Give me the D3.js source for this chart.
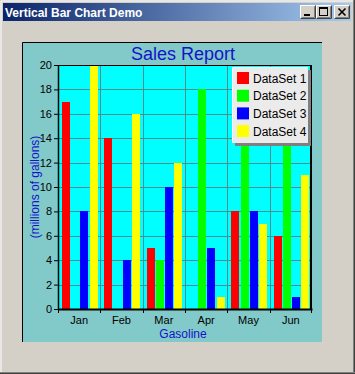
<!DOCTYPE html>
<html><head><meta charset="utf-8">
<script src="https://cdn.jsdelivr.net/npm/d3@7"></script>
<style>
html,body{margin:0;padding:0;background:#d4d0c8;overflow:hidden;}
svg{display:block;}
</style></head>
<body>
<script>
const months = ["Jan","Feb","Mar","Apr","May","Jun"];
const seriesNames = ["DataSet 1","DataSet 2","DataSet 3","DataSet 4"];
const dataSet1 = [17,14,5,0,8,6];
const dataSet2 = [0,0,4,18,15,14];
const dataSet3 = [8,4,10,5,8,1];
const dataSet4 = [20,16,12,1,7,11];
const yTicks = [0,2,4,6,8,10,12,14,16,18,20];
const seriesColors = ["#ff0000","#00ff00","#0000ff","#ffff00"];
const chartTitle = "Sales Report";
const xTitle = "Gasoline";
const yTitle = "(millions of gallons)";
const windowTitle = "Vertical Bar Chart Demo";

const allSeries = [dataSet1,dataSet2,dataSet3,dataSet4];
const W=355,H=374;
const svg=d3.select("body").append("svg").attr("width",W).attr("height",H);

// window chrome
svg.append("rect").attr("x",0).attr("y",0).attr("width",W).attr("height",H).attr("fill","#d4d0c8");
svg.append("line").attr("x1",1).attr("y1",1).attr("x2",W-2).attr("y2",1).attr("stroke","#ffffff");
svg.append("line").attr("x1",1).attr("y1",1).attr("x2",1).attr("y2",H-2).attr("stroke","#ffffff");
svg.append("line").attr("x1",W-1.5).attr("y1",0).attr("x2",W-1.5).attr("y2",H).attr("stroke","#808080");
svg.append("line").attr("x1",W-0.5).attr("y1",0).attr("x2",W-0.5).attr("y2",H).attr("stroke","#404040");
svg.append("line").attr("x1",0).attr("y1",H-1.5).attr("x2",W).attr("y2",H-1.5).attr("stroke","#808080");
svg.append("line").attr("x1",0).attr("y1",H-0.5).attr("x2",W).attr("y2",H-0.5).attr("stroke","#404040");
const defs=svg.append("defs");
const grad=defs.append("linearGradient").attr("id","tb").attr("x1","0").attr("x2","1").attr("y1","0").attr("y2","0");
grad.append("stop").attr("offset","0%").attr("stop-color","#0a246a");
grad.append("stop").attr("offset","100%").attr("stop-color","#a6caf0");
svg.append("rect").attr("x",3).attr("y",3).attr("width",W-7).attr("height",18).attr("fill","url(#tb)");
svg.append("text").attr("x",5).attr("y",16.5).attr("fill","#ffffff")
  .attr("font-family","Liberation Sans, Arial, sans-serif").attr("font-weight","bold").attr("font-size",12)
  .text(windowTitle);
const btnX=[300,316,334];
btnX.forEach((bx,i)=>{
  const g=svg.append("g").attr("transform",`translate(${bx},5)`);
  g.append("rect").attr("width",16).attr("height",14).attr("fill","#d4d0c8");
  g.append("path").attr("d","M0.5,13.5V0.5H15.5").attr("fill","none").attr("stroke","#ffffff");
  g.append("path").attr("d","M0.5,13.5H15.5V0.5").attr("fill","none").attr("stroke","#404040");
  g.append("path").attr("d","M1.5,12.5H14.5V1.5").attr("fill","none").attr("stroke","#808080");
  if(i===0) g.append("rect").attr("x",4).attr("y",9).attr("width",6).attr("height",2).attr("fill","#000");
  if(i===1){ g.append("rect").attr("x",3.5).attr("y",2.5).attr("width",8).attr("height",8).attr("fill","none").attr("stroke","#000");
             g.append("rect").attr("x",3).attr("y",2).attr("width",9).attr("height",2).attr("fill","#000"); }
  if(i===2){ g.append("path").attr("d","M4.5,3.5L11.5,10.5M11.5,3.5L4.5,10.5").attr("stroke","#000").attr("stroke-width",1.6); }
});

// chart panel
const panel={x:22,y:42,w:300,h:300};
svg.append("rect").attr("x",panel.x).attr("y",panel.y).attr("width",panel.w).attr("height",panel.h).attr("fill","#82c9c9");
svg.append("path").attr("d",`M${panel.x+0.5},${panel.y+panel.h}V${panel.y+0.5}H${panel.x+panel.w}`).attr("fill","none").attr("stroke","#000");

// plot
const P={l:58,r:312,t:65,b:309};
const x=d3.scaleBand().domain(months).range([P.l,P.r]).padding(0);
const xs=d3.scaleBand().domain(seriesNames).range([4,x.bandwidth()-2.5]).paddingInner(0.11);
const y=d3.scaleLinear().domain([0,20]).range([P.b,P.t]);

svg.append("rect").attr("x",P.l).attr("y",P.t).attr("width",P.r-P.l).attr("height",P.b-P.t).attr("fill","#00ffff");
const gridColor="#4f8c8c";
svg.append("g").selectAll("line").data(yTicks.filter(d=>d>0&&d<20)).join("line")
  .attr("x1",P.l).attr("x2",P.r).attr("y1",d=>Math.round(y(d))+0.5).attr("y2",d=>Math.round(y(d))+0.5)
  .attr("stroke",gridColor);
svg.append("g").selectAll("line").data(months.slice(1)).join("line")
  .attr("x1",d=>Math.round(x(d))+0.5).attr("x2",d=>Math.round(x(d))+0.5).attr("y1",P.t).attr("y2",P.b)
  .attr("stroke",gridColor);

// bars
const barData=[];
months.forEach((m,i)=>seriesNames.forEach((s,j)=>barData.push({m,s,j,v:allSeries[j][i]})));
svg.append("g").selectAll("rect").data(barData.filter(d=>d.v>0)).join("rect")
  .attr("x",d=>Math.round(x(d.m)+xs(d.s)))
  .attr("width",Math.round(xs.bandwidth()))
  .attr("y",d=>Math.round(y(d.v)))
  .attr("height",d=>Math.round(y(0))-Math.round(y(d.v)))
  .attr("fill",d=>seriesColors[d.j]);

// border
svg.append("line").attr("x1",P.l).attr("x2",P.r).attr("y1",P.t+0.5).attr("y2",P.t+0.5).attr("stroke","#000");
svg.append("line").attr("x1",P.r-1).attr("x2",P.r-1).attr("y1",P.t).attr("y2",P.b).attr("stroke","#000").attr("stroke-width",2);

const font="Liberation Sans, Arial, sans-serif";
// y axis
const yAxis=svg.append("g").attr("transform",`translate(${P.l},0)`)
  .call(d3.axisLeft(y).tickValues(yTicks).tickSize(4).tickPadding(2).tickSizeOuter(0));
yAxis.select(".domain").attr("stroke","#000").attr("stroke-width",1.5);
yAxis.selectAll(".tick line").attr("stroke","#000");
yAxis.selectAll("text").attr("font-family",font).attr("font-size",11).attr("fill","#000");

// x axis
const xAxis=svg.append("g").attr("transform",`translate(0,${P.b})`)
  .call(d3.axisBottom(x).tickSize(0).tickPadding(7));
xAxis.select(".domain").attr("stroke","#000").attr("stroke-width",2);
xAxis.selectAll("text").attr("font-family",font).attr("font-size",11).attr("fill","#000");
svg.append("g").selectAll("line").data(months.map(m=>x(m)).concat([P.r-1])).join("line")
  .attr("x1",d=>Math.round(d)+0.5).attr("x2",d=>Math.round(d)+0.5).attr("y1",P.b).attr("y2",P.b+4).attr("stroke","#000");

// titles
svg.append("text").attr("x",(P.l+P.r)/2-2).attr("y",60).attr("text-anchor","middle")
  .attr("font-family",font).attr("font-size",18).attr("fill","#1414c8").text(chartTitle);
svg.append("text").attr("x",(P.l+P.r)/2-2).attr("y",338).attr("text-anchor","middle")
  .attr("font-family",font).attr("font-size",12).attr("fill","#1414c8").text(xTitle);
svg.append("text").attr("transform",`translate(39,${(P.t+P.b)/2}) rotate(-90)`).attr("text-anchor","middle")
  .attr("font-family",font).attr("font-size",12).attr("fill","#1414c8").text(yTitle);

// legend
const L={x:232,y:67,w:76,h:76};
svg.append("rect").attr("x",L.x+3).attr("y",L.y+3).attr("width",L.w).attr("height",L.h).attr("fill","#808080");
svg.append("rect").attr("x",L.x).attr("y",L.y).attr("width",L.w).attr("height",L.h).attr("fill","#ebebeb");
svg.append("path").attr("d",`M${L.x+0.5},${L.y+L.h}V${L.y+0.5}H${L.x+L.w}`).attr("fill","none").attr("stroke","#ffffff");
const lg=svg.append("g").selectAll("g").data(seriesNames).join("g")
  .attr("transform",(d,i)=>`translate(${L.x+5},${L.y+5+i*17.7})`);
lg.append("rect").attr("width",12).attr("height",12).attr("fill",(d,i)=>seriesColors[i]);
lg.append("text").attr("x",16).attr("y",10.5).attr("font-family",font).attr("font-size",12).attr("fill","#000").text(d=>d);
</script>
</body></html>
